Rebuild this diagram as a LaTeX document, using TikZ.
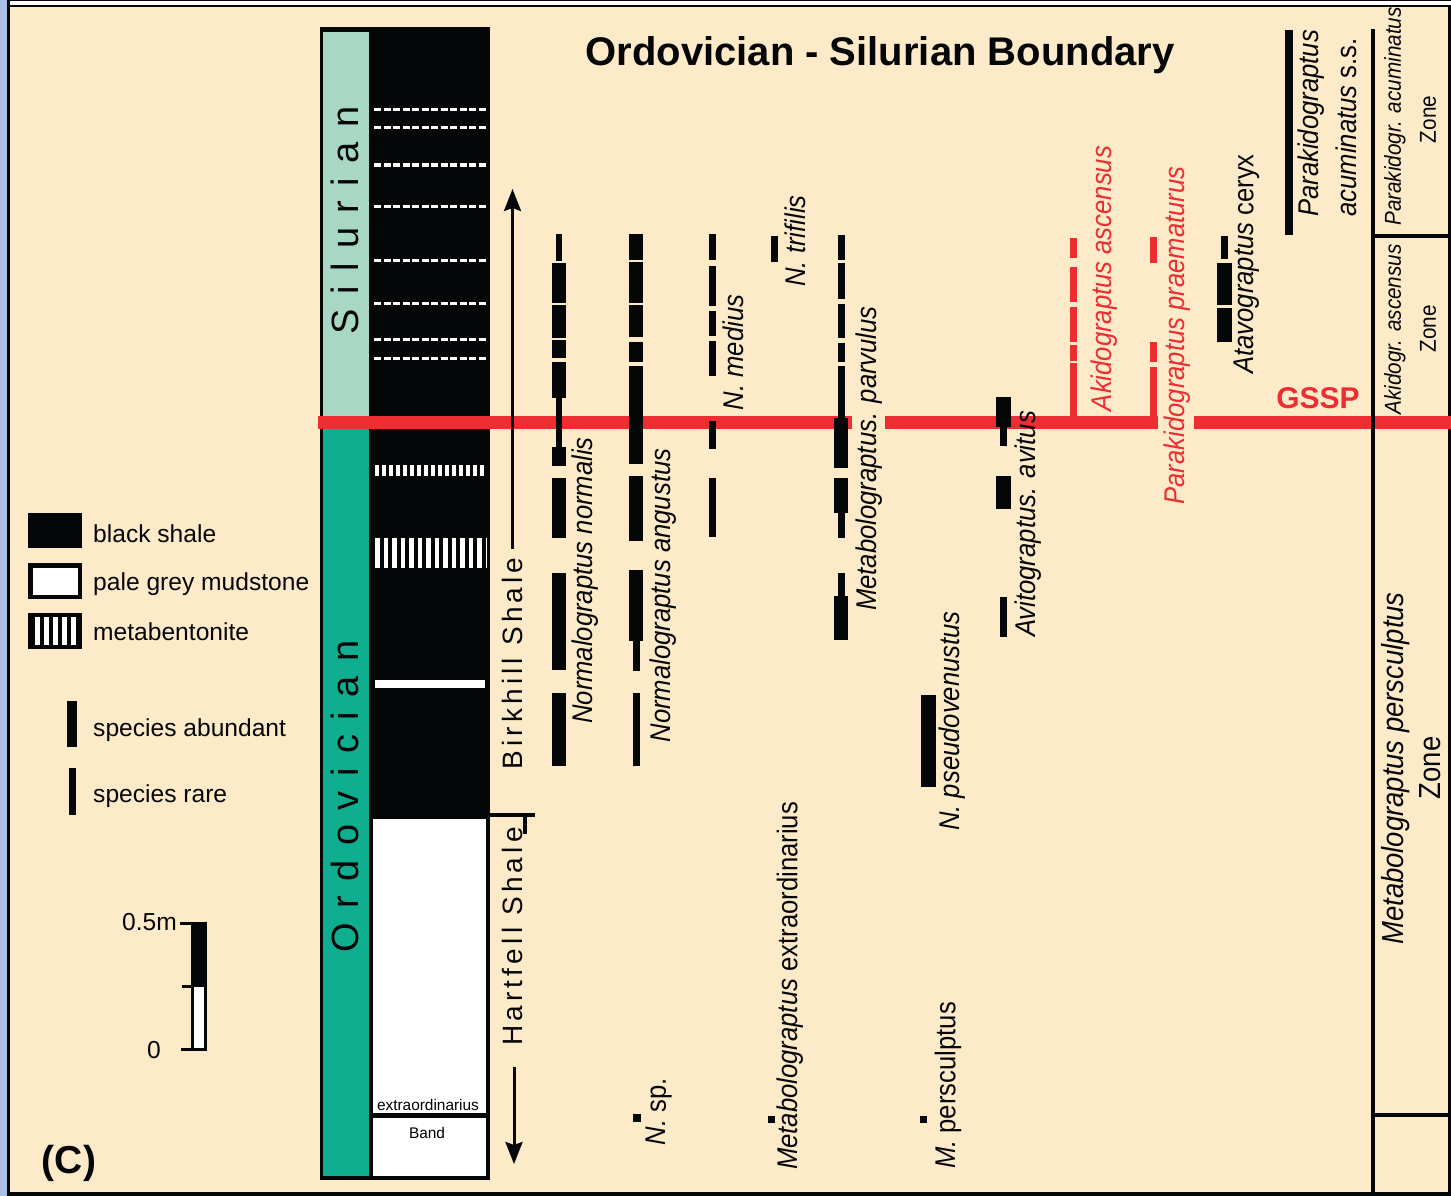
\documentclass[tikz,border=0pt]{standalone}
\usepackage{fontspec}
\setmainfont{Liberation Sans}
\newfontfamily\condf[FakeStretch=0.9]{Liberation Sans}
\newfontfamily\spacedA[LetterSpace=38]{Liberation Sans}
\newfontfamily\spacedB[LetterSpace=15]{Liberation Sans}
\usetikzlibrary{arrows.meta}
\definecolor{bg}{RGB}{253,234,201}
\definecolor{silg}{RGB}{168,216,196}
\definecolor{ordg}{RGB}{16,174,144}
\definecolor{gred}{RGB}{236,45,50}
\definecolor{bstrip}{RGB}{170,190,230}
\definecolor{ink}{RGB}{5,6,8}
\newcommand\thk[3]{\fill[ink] ({#1-7.25},#2) rectangle ({#1+7.25},#3);}
\newcommand\thn[3]{\fill[ink] ({#1-3.5},#2) rectangle ({#1+3.5},#3);}
\newcommand\rdn[3]{\fill[gred] ({#1-3.5},#2) rectangle ({#1+3.5},#3);}
\tikzset{
  sp/.style={rotate=90, inner sep=0pt, text=ink, font=\condf\fontsize{28.5}{30}\selectfont\itshape},
  zonea/.style={rotate=90, inner sep=0pt, text=ink, font=\condf\fontsize{23}{25}\selectfont},
  zoneb/.style={rotate=90, inner sep=0pt, text=ink, font=\condf\fontsize{30.5}{32}\selectfont},
  period/.style={rotate=90, inner sep=0pt, text=ink, font=\spacedA\fontsize{38}{40}\selectfont},
  forma/.style={rotate=90, inner sep=0pt, text=ink, font=\spacedB\fontsize{28}{30}\selectfont},
  leg/.style={anchor=base west, inner sep=0pt, text=ink, font=\fontsize{24.6}{26}\selectfont},
  arr/.style={ink, line width=3pt, -{Stealth[length=22pt,width=17pt,inset=3pt]}},
  dotl/.style={white, line width=3pt, dash pattern=on 7pt off 2.5pt},
}
\begin{document}
\begin{tikzpicture}[x=1pt,y=-1pt]
\useasboundingbox (0,0) rectangle (1451,1196);
% frame
\fill[white] (0,0) rectangle (1451,1196);
\fill[bstrip] (0,0) rectangle (7.5,1196);
\fill[bg] (10,7.5) rectangle (1451,1192);
\draw[ink,line width=1.5pt] (7,0.75) -- (1451,0.75);
\draw[ink,line width=2.5pt] (7,6.25) -- (1451,6.25);
\draw[ink,line width=3pt] (8.5,0) -- (8.5,1196);
\draw[ink,line width=4pt] (7,1194) -- (1451,1194);
\draw[ink,line width=3pt] (1449.5,7) -- (1449.5,1196);

% stratigraphic column
\fill[ink] (320,27) rectangle (490,1180);
\fill[silg] (323,32) rectangle (369,416);
\fill[ordg] (323,429) rectangle (369,1176);
\fill[white] (373,819) rectangle (486,1113);
\fill[white] (373,1118) rectangle (486,1176);
\fill[white] (375,680) rectangle (485,688);
\foreach \yy in {109.3,127.7,165,206.7,260,303.3,339.3,358.3}
  \draw[dotl] (374,\yy) -- (486,\yy);
\draw[white,line width=11pt,dash pattern=on 3.5pt off 3.5pt] (375,470.5) -- (486,470.5);
\draw[white,line width=30pt,dash pattern=on 4.5pt off 4pt] (375,553) -- (486,553);

% GSSP red line
\fill[gred] (318,416) rectangle (852,429);
\fill[gred] (885,416) rectangle (1158,429);
\fill[gred] (1194,416) rectangle (1451,429);

% period labels
\node[period] (sil) at (345,220.5) {Silurian};
\node[period] (ord) at (345,796.5) {Ordovician};
\node[anchor=base, inner sep=0pt, font=\fontsize{15.4}{17}\selectfont] (extra) at (428,1110) {extraordinarius};
\node[anchor=base, inner sep=0pt, font=\fontsize{15.4}{17}\selectfont] (band) at (427,1138) {Band};

% formations
\node[forma] (birk) at (512,663.5) {Birkhill Shale};
\node[forma] (hart) at (512,936.5) {Hartfell Shale};
\coordinate (birktop) at (512.5,549);
\coordinate (arrtop) at (512.5,189);
\coordinate (hartbot) at (514,1067);
\coordinate (arrbot) at (514,1164);
\draw[arr] (birktop) -- (arrtop);
\draw[arr] (hartbot) -- (arrbot);
\draw[ink,line width=3.5pt] (490,815) -- (535,815);
\draw[ink,line width=3.5pt] (525,815) -- (525,834);

% title
\node[anchor=base, inner sep=0pt, text=ink, font=\bfseries\fontsize{40}{44}\selectfont] (title) at (880,66) {Ordovician - Silurian Boundary};
\node[anchor=base, inner sep=0pt, text=gred, font=\bfseries\fontsize{30}{32}\selectfont] (gssp) at (1318,408) {GSSP};

% Normalograptus normalis
\fill[ink] (556,234) rectangle (562,261);
\thk{559}{263}{303}\thk{559}{305}{338}\thk{559}{340}{358}\thk{559}{362}{398}
\fill[ink] (556,398) rectangle (562,447);
\thk{559}{447}{466}\thk{559}{478}{538}\thk{559}{573}{670}\thk{559}{693}{766}
% Normalograptus angustus
\thk{636}{234}{260}\thk{636}{262}{303}\thk{636}{305}{337}\thk{636}{342}{362}\thk{636}{366}{464}
\thk{636}{476}{541}\thk{636}{570}{641}
\thn{636}{641}{671}\thn{636}{693}{766}
% N. medius
\thn{712}{234}{260}\thn{712}{266}{306}\thn{712}{311}{336}\thn{712}{341}{376}
\thn{712}{421}{449}\thn{712}{478}{537}
% N. trifilis
\thn{774}{236}{262}
% Metabolograptus parvulus
\thn{841}{235}{260}\thn{841}{263}{299}\thn{841}{304}{338}\thn{841}{343}{362}\thn{841}{366}{418}
\thk{841}{418}{468}\thk{841}{478}{513}\thn{841}{513}{538}
\thn{841}{573}{596}\thk{841}{596}{640}
% Avitograptus avitus
\thk{1003.5}{397}{427}\thn{1003.5}{427}{446}\thk{1003.5}{476}{509}\thn{1003.5}{597}{637}
% N. pseudovenustus
\thk{928.5}{695}{787}
% Akidograptus ascensus (red)
\rdn{1073.5}{238}{258}\rdn{1073.5}{267}{302}\rdn{1073.5}{307}{342}\rdn{1073.5}{345}{361}\rdn{1073.5}{363}{420}
% Parakidograptus praematurus (red)
\rdn{1153.5}{237}{263}\rdn{1153.5}{342}{362}\rdn{1153.5}{367}{420}
% Atavograptus ceryx
\thn{1224.5}{236}{259}\thk{1224.5}{263}{305}\thk{1224.5}{308}{342}
% Parakidograptus acuminatus
\fill[ink] (1285,30) rectangle (1293,235);
% single finds
\fill[ink] (633,1114) rectangle (641,1122);
\fill[ink] (767.5,1115.5) rectangle (774.5,1122.5);
\fill[ink] (919.5,1115.5) rectangle (926.5,1122.5);

% species labels
\node[sp] (lnorm) at (585,580.5) {Normalograptus normalis};
\node[sp] (lang) at (663,595.5) {Normalograptus angustus};
\node[sp] (lmed) at (733.5,352.5) {N. medius};
\node[sp] (ltri) at (795,241) {N. trifilis};
\node[sp] (lpar) at (869.5,458.5) {Metabolograptus. parvulus};
\node[sp] (lavi) at (1028,524) {Avitograptus. avitus};
\node[sp, text=gred] (lasc) at (1104,278.5) {Akidograptus ascensus};
\node[sp, text=gred] (lpra) at (1177,335.5) {Parakidograptus praematurus};
\node[sp] (lcer) at (1246.5,264) {Atavograptus \upshape ceryx};
\node[sp] (lacu1) at (1311,123.5) {Parakidograptus};
\node[sp] (lacu2) at (1346,127.5) {acuminatus \upshape s.s.};
\node[sp] (lpse) at (952,721) {N. pseudovenustus};
\node[sp] (lext) at (790,986) {Metabolograptus \upshape extraordinarius};
\node[sp] (lnsp) at (659,1111.5) {N. \upshape sp.};
\node[sp] (lmpe) at (948,1085.5) {M. \upshape persculptus};

% zone column
\draw[ink,line width=4pt] (1373,29) -- (1373,1196);
\draw[ink,line width=4pt] (1373,235.5) -- (1451,235.5);
\draw[ink,line width=4pt] (1373,1115) -- (1451,1115);
\node[zonea] (z1a) at (1395,116.5) {\itshape Parakidogr. acuminatus};
\node[zonea] (z1b) at (1428,119.5) {Zone};
\node[zonea] (z2a) at (1395,329.5) {\itshape Akidogr. ascensus};
\node[zonea] (z2b) at (1428,329) {Zone};
\node[zoneb] (z3a) at (1396,768.5) {\itshape Metabolograptus persculptus};
\node[zoneb] (z3b) at (1430,768) {Zone};

% legend
\fill[ink] (28,513) rectangle (82,548);
\fill[ink] (28,563) rectangle (82,599);
\fill[white] (32.5,567.5) rectangle (77.5,594.5);
\fill[ink] (28,613) rectangle (82,649);
\foreach \xx in {35,44,53,62,71}
  \fill[white] (\xx,617) rectangle ({\xx+4.5},645);
\fill[ink] (67,701) rectangle (77,747);
\fill[ink] (69,768) rectangle (76,815);
\node[leg] (t1) at (93,542) {black shale};
\node[leg] (t2) at (93,590) {pale grey mudstone};
\node[leg] (t3) at (93,640) {metabentonite};
\node[leg] (t4) at (93,736) {species abundant};
\node[leg] (t5) at (93,802) {species rare};

% scale bar
\fill[ink] (190.5,921.5) rectangle (207,1051);
\fill[white] (193.5,987) rectangle (204,1048);
\draw[ink,line width=3pt] (180,923) -- (191,923);
\draw[ink,line width=3pt] (182,986) -- (191,986);
\draw[ink,line width=3pt] (181,1049.5) -- (191,1049.5);
\node[anchor=base east, inner sep=0pt, text=ink, font=\fontsize{24.6}{26}\selectfont] (s1) at (177,930) {0.5m};
\node[anchor=base, inner sep=0pt, text=ink, font=\fontsize{24.6}{26}\selectfont] (s0) at (154,1058) {0};
\node[anchor=base, inner sep=0pt, text=ink, font=\bfseries\fontsize{39}{42}\selectfont] (lc) at (69,1173) {(C)};
\end{tikzpicture}
\end{document}
